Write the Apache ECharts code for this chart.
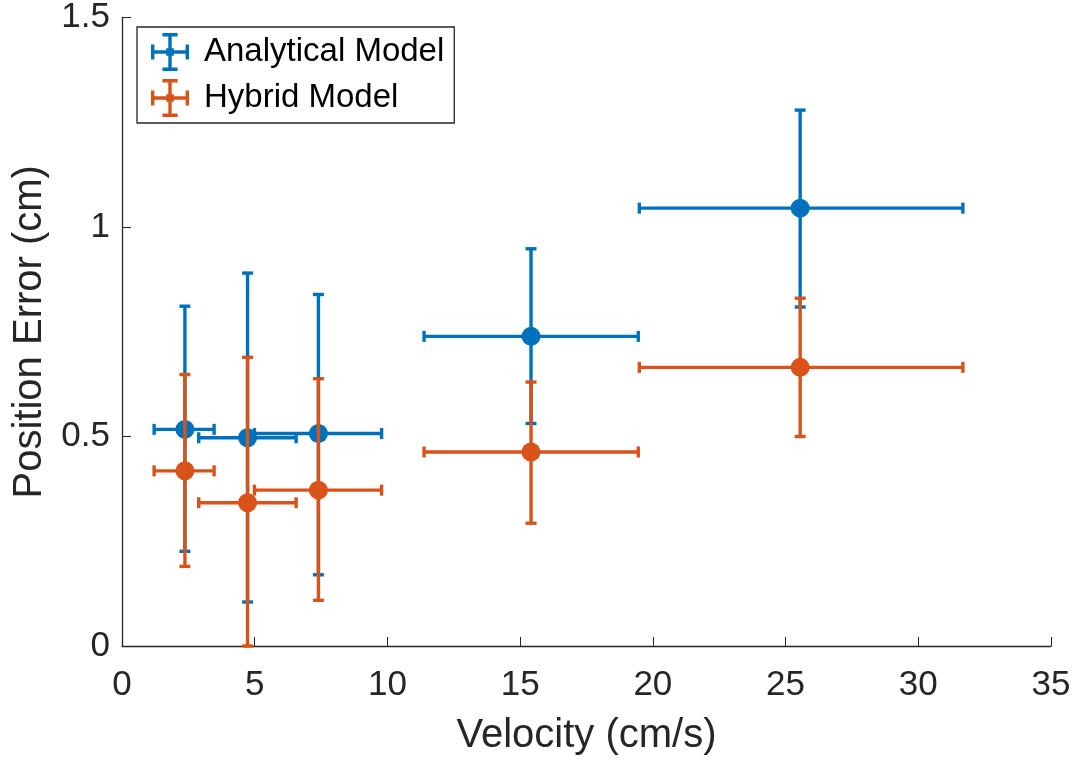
<!DOCTYPE html>
<html>
<head>
<meta charset="utf-8">
<script src="https://cdn.jsdelivr.net/npm/echarts@6/dist/echarts.min.js"></script>
<style>
  html, body { margin: 0; padding: 0; background: #fff; }
  #main { width: 1077px; height: 761px; }
</style>
</head>
<body>
<div id="main"></div>
<script>
// velocity (cm/s) and its spread
var velocity = [2.37, 4.73, 7.40, 15.41, 25.55];
var velocityLow = [1.21, 2.89, 4.99, 11.38, 19.49];
var velocityHigh = [3.47, 6.56, 9.78, 19.45, 31.68];

// analytical model position error (cm)
var analytical = [0.517, 0.497, 0.507, 0.739, 1.045];
var analyticalLow = [0.226, 0.105, 0.170, 0.531, 0.809];
var analyticalHigh = [0.811, 0.890, 0.839, 0.948, 1.279];

// hybrid model position error (cm)
var hybrid = [0.418, 0.342, 0.372, 0.463, 0.665];
var hybridLow = [0.190, 0.0, 0.109, 0.293, 0.500];
var hybridHigh = [0.648, 0.689, 0.638, 0.630, 0.830];

var xTicks = [0, 5, 10, 15, 20, 25, 30, 35];
var yTicks = [0, 0.5, 1, 1.5];

var BLUE = '#0072BD';
var ORANGE = '#D95319';
var FONT = "'Liberation Sans', Arial, sans-serif";
var INK = '#262626';

var chart = echarts.init(document.getElementById('main'));

function rows(x, xl, xh, y, yl, yh) {
  return x.map(function (v, i) { return [v, y[i], xl[i], xh[i], yl[i], yh[i]]; });
}

function errorBars(color) {
  return function (params, api) {
    var p = api.coord([api.value(0), api.value(1)]);
    var l = api.coord([api.value(2), api.value(1)]);
    var r = api.coord([api.value(3), api.value(1)]);
    var b = api.coord([api.value(0), api.value(4)]);
    var t = api.coord([api.value(0), api.value(5)]);
    var cap = 5.5;
    var st = { stroke: color, lineWidth: 3.4 };
    function seg(x1, y1, x2, y2) {
      return { type: 'line', shape: { x1: x1, y1: y1, x2: x2, y2: y2 }, style: st };
    }
    return {
      type: 'group',
      children: [
        seg(l[0], p[1], r[0], p[1]),
        seg(p[0], b[1], p[0], t[1]),
        seg(l[0], p[1] - cap, l[0], p[1] + cap),
        seg(r[0], p[1] - cap, r[0], p[1] + cap),
        seg(p[0] - cap, b[1], p[0] + cap, b[1]),
        seg(p[0] - cap, t[1], p[0] + cap, t[1]),
        { type: 'circle', shape: { cx: p[0], cy: p[1], r: 9.5 }, style: { fill: color } }
      ]
    };
  };
}

var crossIcon = 'path://M9.1,0H10.9V20H9.1Z M6,0H14V1.8H6Z M6,18.2H14V20H6Z M0,9.1H20V10.9H0Z M0,6H1.8V14H0Z M18.2,6H20V14H18.2Z M8,8H12V12H8Z';

var option = {
  backgroundColor: '#fff',
  animation: false,
  textStyle: { fontFamily: FONT, color: INK },
  grid: { left: 122, right: 26, top: 15, bottom: 114, containLabel: false },
  legend: {
    left: 137,
    top: 27,
    orient: 'vertical',
    padding: [6, 10, 6, 14],
    itemGap: 8,
    itemWidth: 38,
    itemHeight: 38,
    borderColor: INK,
    borderWidth: 1.3,
    backgroundColor: '#fff',
    textStyle: { fontFamily: FONT, fontSize: 33, color: '#000', padding: [0, 0, 0, 10] },
    data: [
      { name: 'Analytical Model', icon: crossIcon, itemStyle: { color: BLUE } },
      { name: 'Hybrid Model', icon: crossIcon, itemStyle: { color: ORANGE } }
    ]
  },
  xAxis: {
    type: 'value',
    min: xTicks[0],
    max: xTicks[xTicks.length - 1],
    interval: 5,
    name: 'Velocity (cm/s)',
    nameLocation: 'middle',
    nameGap: 70,
    nameTextStyle: { fontFamily: FONT, fontSize: 40, color: INK },
    axisLine: { lineStyle: { color: INK, width: 1.3 } },
    axisTick: { inside: true, length: 9, lineStyle: { color: INK } },
    axisLabel: { fontFamily: FONT, fontSize: 35, color: INK, margin: 22 },
    splitLine: { show: false }
  },
  yAxis: {
    type: 'value',
    min: yTicks[0],
    max: yTicks[yTicks.length - 1],
    interval: 0.5,
    name: 'Position Error (cm)',
    nameLocation: 'middle',
    nameGap: 70,
    nameTextStyle: { fontFamily: FONT, fontSize: 40, color: INK },
    axisLine: { show: true, lineStyle: { color: INK, width: 1.3 } },
    axisTick: { show: true, inside: true, length: 9, lineStyle: { color: INK } },
    axisLabel: { fontFamily: FONT, fontSize: 35, color: INK, margin: 12 },
    splitLine: { show: false }
  },
  series: [
    {
      name: 'Analytical Model',
      type: 'custom',
      color: BLUE,
      renderItem: errorBars(BLUE),
      encode: { x: 0, y: 1 },
      data: rows(velocity, velocityLow, velocityHigh, analytical, analyticalLow, analyticalHigh),
      z: 2
    },
    {
      name: 'Hybrid Model',
      type: 'custom',
      color: ORANGE,
      renderItem: errorBars(ORANGE),
      encode: { x: 0, y: 1 },
      data: rows(velocity, velocityLow, velocityHigh, hybrid, hybridLow, hybridHigh),
      z: 3
    }
  ]
};

chart.setOption(option);
</script>
</body>
</html>
